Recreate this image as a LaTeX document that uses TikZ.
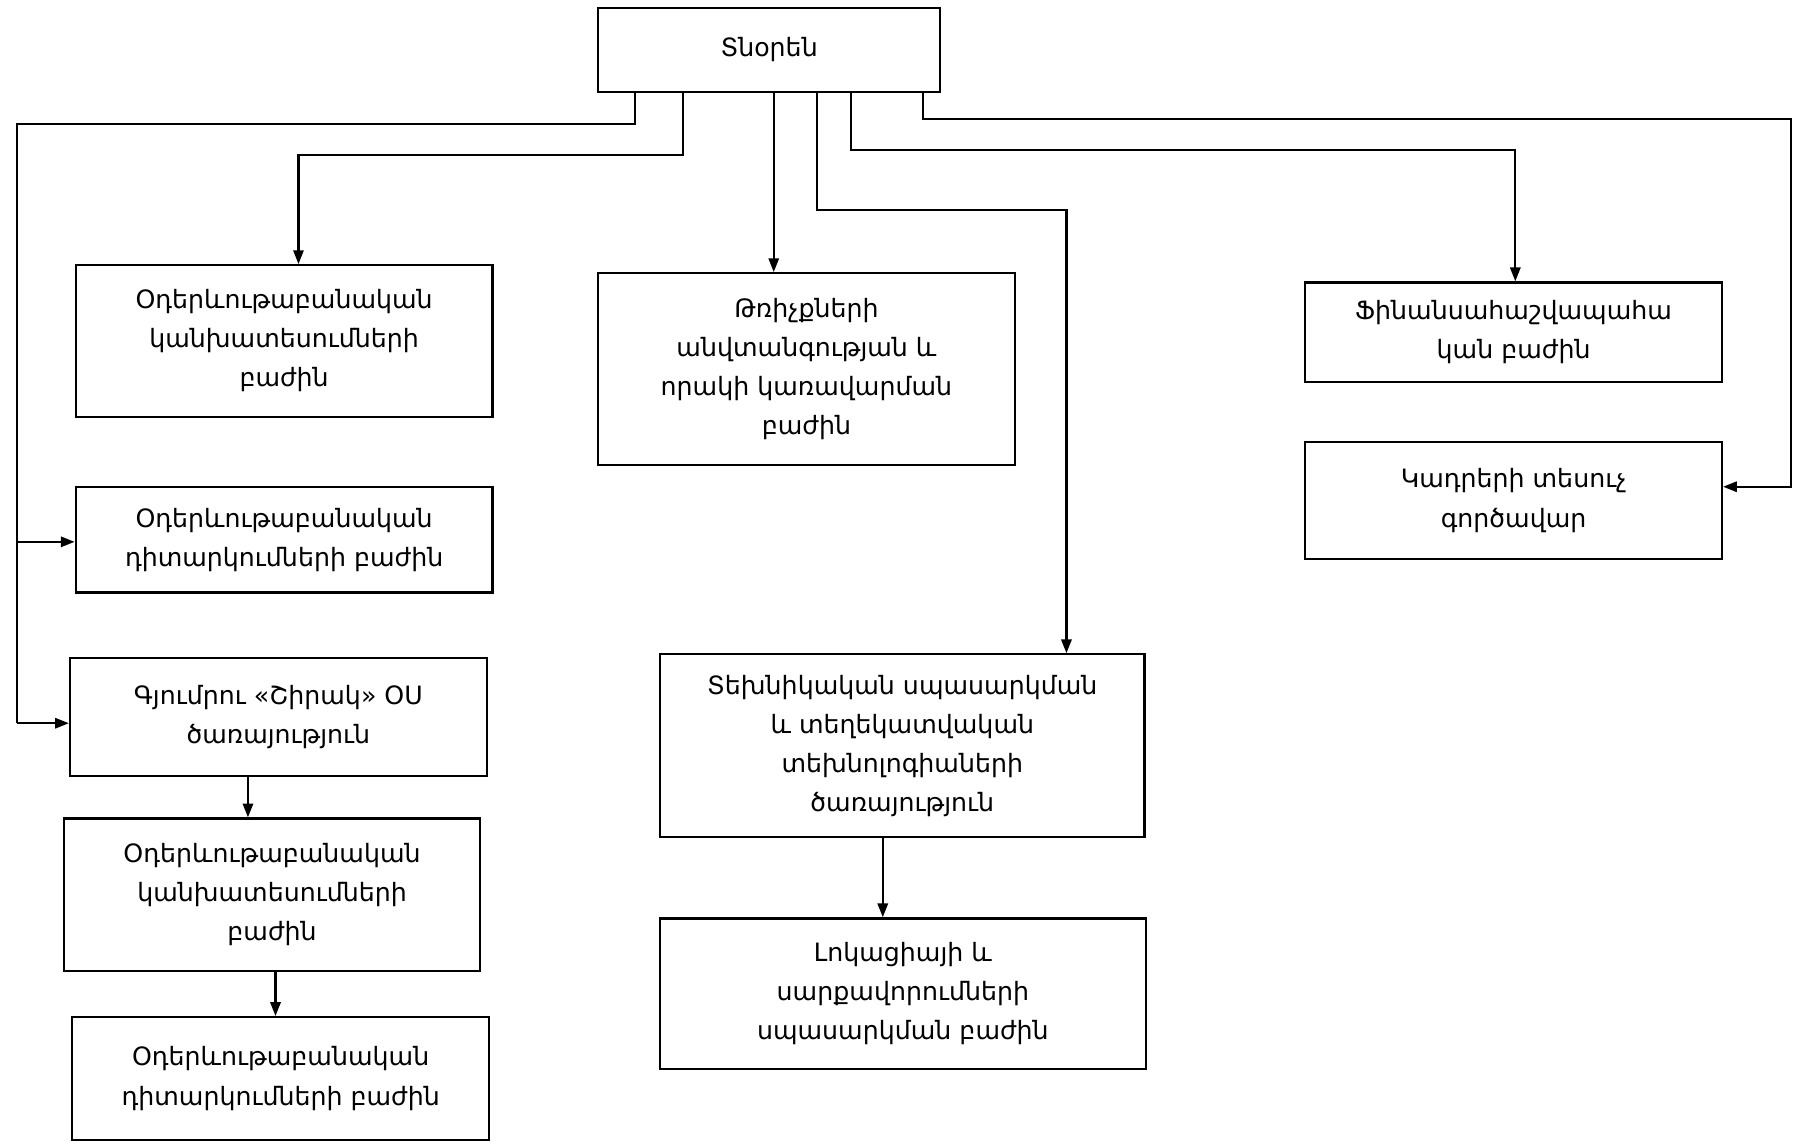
\documentclass[tikz,border=0pt]{standalone}
\usepackage{fontspec}
\setmainfont{DejaVu Sans}
\usetikzlibrary{arrows.meta}
\begin{document}
\begin{tikzpicture}[x=1pt,y=-1pt,
  box/.style={draw, line width=2pt, rectangle, align=center, inner sep=0pt,
    font=\fontsize{22}{34}\selectfont},
  conn/.style={line width=1.8pt},
  arr/.style={conn, -{Triangle[length=12pt,width=9pt]}}]
\useasboundingbox (0,0) rectangle (1568,996);

\node[box, minimum width=298, minimum height=73] (top) at (670,43.5) {Տնօրեն};

\node[box, minimum width=363, minimum height=132] (b1) at (247.5,297) {Օդերևութաբանական\\կանխատեսումների\\բաժին};
\node[box, minimum width=363, minimum height=92] (b2) at (247.5,470) {Օդերևութաբանական\\դիտարկումների բաժին};
\node[box, minimum width=363, minimum height=103] (b3) at (242.5,624.5) {Գյումրու «Շիրակ» ՕՍ\\ծառայություն};
\node[box, minimum width=362, minimum height=133] (b4) at (237,779.5) {Օդերևութաբանական\\կանխատեսումների\\բաժին};
\node[box, minimum width=363, minimum height=107] (b5) at (244.5,939.5) {Օդերևութաբանական\\դիտարկումների բաժին};

\node[box, minimum width=363, minimum height=167] (flt) at (702.5,321.5) {Թռիչքների\\անվտանգության և\\որակի կառավարման\\բաժին};
\node[box, minimum width=422, minimum height=159] (tech) at (786,649.5) {Տեխնիկական սպասարկման\\և տեղեկատվական\\տեխնոլոգիաների\\ծառայություն};
\node[box, minimum width=423, minimum height=131] (loc) at (786.5,865.5) {Լոկացիայի և\\սարքավորումների\\սպասարկման բաժին};

\node[box, minimum width=363, minimum height=87] (fin) at (1318.5,289.5) {Ֆինանսահաշվապահա\\կան բաժին};
\node[box, minimum width=363, minimum height=102] (kad) at (1318.5,436) {Կադրերի տեսուչ\\գործավար};

% connector corner points
\coordinate (xa) at (553,108);
\coordinate (la) at (15,108);
\coordinate (lm) at (15,472);
\coordinate (lb) at (15,630);
\coordinate (xb) at (595,135);
\coordinate (xb2) at (260,135);
\coordinate (xc) at (674,0);
\coordinate (xd) at (712,183);
\coordinate (xd2) at (929,183);
\coordinate (xe) at (741,131);
\coordinate (xe2) at (1320,131);
\coordinate (xf) at (804,104);
\coordinate (xf2) at (1560,104);
\coordinate (xf3) at (1560,424);
\coordinate (xg) at (216,0);
\coordinate (xh) at (240,0);
\coordinate (xi) at (769,0);

\draw[conn] (top.south -| xa) -- (xa) -- (la) -- (lb);
\draw[arr] (lm) -- (lm -| b2.west);
\draw[arr] (lb) -- (lb -| b3.west);
\draw[arr] (top.south -| xb) -- (xb) -- (xb2) -- (xb2 |- b1.north);
\draw[arr] (top.south -| xc) -- (xc |- flt.north);
\draw[arr] (top.south -| xd) -- (xd) -- (xd2) -- (xd2 |- tech.north);
\draw[arr] (top.south -| xe) -- (xe) -- (xe2) -- (xe2 |- fin.north);
\draw[arr] (top.south -| xf) -- (xf) -- (xf2) -- (xf3) -- (xf3 -| kad.east);
\draw[arr] (b3.south -| xg) -- (b4.north -| xg);
\draw[arr] (b4.south -| xh) -- (b5.north -| xh);
\draw[arr] (tech.south -| xi) -- (loc.north -| xi);
\end{tikzpicture}
\end{document}
